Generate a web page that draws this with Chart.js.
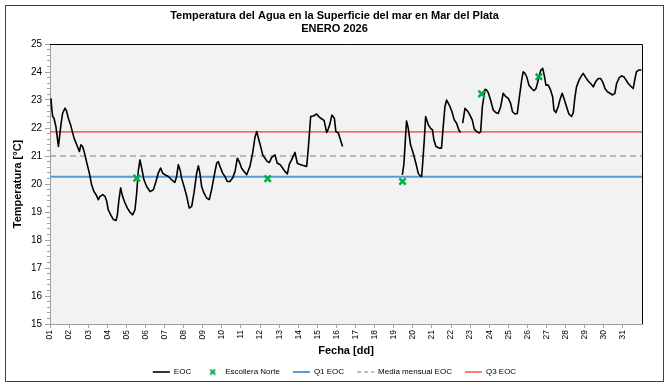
<!DOCTYPE html>
<html>
<head>
<meta charset="utf-8">
<script src="https://cdn.jsdelivr.net/npm/chart.js@4/dist/chart.umd.min.js"></script>
<style>
html,body{margin:0;padding:0;background:#fff;}
#wrap{position:relative;width:669px;height:386px;}
</style>
</head>
<body>
<div id="wrap"><canvas id="c" width="669" height="386"></canvas></div>
<script>
// ---- Data ----
// EOC hourly-ish water temperature: day of month (fractional) and temperature in °C. null = gap
const eocDays = [
  1.05,1.09,1.14,1.21,1.31,1.44,1.56,1.66,1.79,1.87,1.96,2.08,2.17,2.26,2.40,2.54,2.62,2.71,2.83,2.95,
  3.06,3.18,3.30,3.41,3.53,3.62,3.76,3.88,3.97,4.05,4.18,4.32,4.46,4.53,4.60,4.70,4.80,4.93,5.05,5.19,
  5.33,5.45,5.54,5.62,5.71,5.80,5.92,6.06,6.24,6.41,6.55,6.67,6.79,6.90,7.02,7.20,7.37,7.54,7.63,7.72,
  7.81,7.89,8.02,8.16,8.29,8.42,8.54,8.68,8.77,8.85,8.94,9.06,9.20,9.34,9.46,9.59,9.73,9.81,9.90,10.04,
  10.16,10.28,10.42,10.56,10.69,10.81,10.91,11.03,11.16,11.30,11.47,11.61,11.74,11.83,11.91,12.03,12.14,12.26,12.38,12.49,
  12.61,12.78,12.90,13.04,13.18,13.30,13.43,13.53,13.65,13.83,13.95,14.09,14.26,14.44,14.52,14.65,14.79,14.96,15.10,15.22,
  15.35,15.49,15.57,15.66,15.76,15.89,15.97,16.10,16.18,16.32,
  17.00,
  19.45,19.53,19.62,19.67,19.76,19.88,20.02,20.16,20.28,20.37,20.46,20.51,20.60,20.67,20.81,20.93,21.03,21.10,21.21,21.38,
  21.50,21.59,21.68,21.77,21.91,22.05,22.17,22.29,22.41,22.50,
  22.55,
  22.61,22.73,22.87,22.99,23.11,23.22,23.34,23.48,23.55,23.64,23.78,23.86,23.95,24.07,24.21,24.35,24.47,24.60,24.73,24.87,
  25.00,25.12,25.22,25.35,25.47,25.57,25.70,25.78,25.87,25.96,26.08,26.22,26.34,26.45,26.57,26.69,26.80,26.88,26.97,27.09,
  27.21,27.32,27.39,27.49,27.61,27.70,27.82,27.91,28.05,28.17,28.31,28.40,28.48,28.57,28.71,28.83,28.92,29.06,29.18,29.31,
  29.45,29.57,29.71,29.83,29.94,30.06,30.18,30.32,30.46,30.58,30.67,30.81,30.93,31.05,31.16,31.28,31.40,31.54,31.62,31.71,
  31.83,31.97
];
const eocTemps = [
  23.06,22.71,22.41,22.35,22.05,21.34,22.05,22.53,22.71,22.60,22.35,22.11,21.87,21.64,21.40,21.16,21.40,21.34,21.04,20.69,
  20.39,19.97,19.73,19.62,19.44,19.56,19.62,19.56,19.38,19.08,18.90,18.73,18.70,18.90,19.38,19.86,19.56,19.32,19.14,18.99,
  18.90,19.08,19.68,20.45,20.86,20.57,20.15,19.91,19.73,19.79,20.09,20.39,20.57,20.39,20.33,20.27,20.15,20.06,20.27,20.69,
  20.51,20.21,19.91,19.56,19.14,19.20,19.68,20.39,20.65,20.39,19.91,19.68,19.50,19.44,19.79,20.27,20.75,20.80,20.63,20.39,
  20.27,20.09,20.09,20.21,20.45,20.92,20.80,20.57,20.45,20.33,20.63,21.10,21.70,21.87,21.64,21.34,21.04,20.92,20.80,20.77,
  20.95,21.04,20.74,20.70,20.57,20.45,20.36,20.70,20.86,21.13,20.74,20.70,20.66,20.63,21.22,22.41,22.43,22.50,22.39,22.33,
  22.27,21.84,21.96,22.15,22.46,22.35,21.87,21.82,21.64,21.34,
  null,
  20.33,20.70,21.70,22.25,21.99,21.40,21.10,20.74,20.39,20.30,20.27,20.69,21.58,22.41,22.11,21.99,21.93,21.58,21.34,21.28,
  21.28,22.05,22.76,23.00,22.82,22.58,22.29,22.17,21.93,21.84,
  null,
  22.17,22.70,22.60,22.46,22.29,21.96,21.87,21.82,21.87,22.76,23.38,23.36,23.26,23.00,22.64,22.55,22.52,22.76,23.24,23.12,
  23.06,22.88,22.58,22.50,22.52,23.06,23.72,24.01,23.95,23.83,23.53,23.41,23.33,23.41,23.72,24.05,24.13,23.89,23.53,23.53,
  23.36,23.12,22.64,22.55,22.76,23.00,23.24,23.06,22.76,22.50,22.41,22.55,23.06,23.47,23.72,23.86,23.95,23.80,23.68,23.59,
  23.47,23.65,23.77,23.77,23.65,23.41,23.30,23.24,23.18,23.24,23.59,23.80,23.86,23.83,23.72,23.59,23.50,23.41,23.72,24.01,
  24.07,24.07
];
// Escollera Norte samples
const escDays  = [5.54, 12.40, 19.46, 23.60, 26.60];
const escTemps = [20.21, 20.19, 20.09, 23.22, 23.83];
// Monthly statistics for EOC
const q1Eoc = 20.26;
const mediaEoc = 21.00;
const q3Eoc = 21.86;
// Axis
const xStart = 1, xEnd = 32;
const dayLabels = ['01','02','03','04','05','06','07','08','09','10','11','12','13','14','15','16',
                   '17','18','19','20','21','22','23','24','25','26','27','28','29','30','31'];
const yMin = 15, yMax = 25;

// ---- Chart ----
const FAM = "'Liberation Sans', Arial, sans-serif";
const GREEN = '#00b050';

const xImg = document.createElement('canvas');
xImg.width = 7; xImg.height = 7;
(function(){
  const g = xImg.getContext('2d');
  g.strokeStyle = GREEN; g.lineWidth = 2;
  g.beginPath(); g.moveTo(1,1); g.lineTo(6,6); g.moveTo(6,1); g.lineTo(1,6); g.stroke();
})();

const hLine = v => [{x: xStart, y: v}, {x: xEnd, y: v}];

const framePlugin = {
  id: 'framePlugin',
  beforeDraw(chart) {
    const {ctx, chartArea: a} = chart;
    ctx.save();
    ctx.fillStyle = '#fff';
    ctx.fillRect(0, 0, chart.width, chart.height);
    ctx.fillStyle = '#f2f2f2';
    ctx.fillRect(a.left, a.top, a.right - a.left, a.bottom - a.top);
    ctx.strokeStyle = '#404040';
    ctx.lineWidth = 1;
    ctx.strokeRect(5.5, 5.5, 658, 376);
    ctx.restore();
  },
  afterDatasetsDraw(chart) {
    const {ctx, chartArea: a} = chart;
    ctx.save();
    ctx.strokeStyle = '#000';
    ctx.lineWidth = 1;
    ctx.beginPath();
    ctx.moveTo(a.left, Math.round(a.top) + 0.5);
    ctx.lineTo(Math.round(a.right) + 0.5, Math.round(a.top) + 0.5);
    ctx.lineTo(Math.round(a.right) + 0.5, a.bottom);
    ctx.stroke();
    ctx.restore();
  }
};

new Chart(document.getElementById('c'), {
  type: 'line',
  data: {
    datasets: [
      {
        label: 'EOC',
        data: eocDays.map((d, i) => ({x: d, y: eocTemps[i]})),
        borderColor: '#000', borderWidth: 1.6, pointRadius: 0, tension: 0,
        borderJoinStyle: 'round', spanGaps: false, yAxisID: 'y'
      },
      {
        label: 'Escollera Norte',
        data: escDays.map((d, i) => ({x: d, y: escTemps[i]})),
        showLine: false, pointStyle: 'crossRot', pointRadius: 4.5,
        pointBorderWidth: 2.5, pointBorderColor: GREEN, pointBackgroundColor: GREEN,
        borderColor: GREEN, backgroundColor: GREEN, order: -1, yAxisID: 'y'
      },
      {
        label: 'Q1 EOC', data: hLine(q1Eoc),
        borderColor: '#5b9bd5', borderWidth: 2, pointRadius: 0, order: 1, yAxisID: 'y'
      },
      {
        label: 'Media mensual EOC', data: hLine(mediaEoc),
        borderColor: '#a6a6a6', borderWidth: 1.5, borderDash: [6, 4], pointRadius: 0, order: 1, yAxisID: 'y'
      },
      {
        label: 'Q3 EOC', data: hLine(q3Eoc),
        borderColor: '#ff3333', borderWidth: 1.3, pointRadius: 0, order: 1, yAxisID: 'y'
      }
    ]
  },
  options: {
    responsive: false, animation: false, devicePixelRatio: 1,
    layout: { padding: 0 },
    plugins: {
      tooltip: { enabled: false },
      title: {
        display: true,
        text: ['Temperatura del Agua en la Superficie del mar en Mar del Plata', 'ENERO 2026'],
        color: '#000',
        font: { family: FAM, size: 11, weight: 'bold', lineHeight: 1.2 },
        padding: { top: 9.5, bottom: 8.1 }
      },
      legend: {
        position: 'bottom',
        labels: {
          usePointStyle: true, pointStyleWidth: 17, boxHeight: 8, padding: 13,
          color: '#000', font: { family: FAM, size: 8 },
          sort: (a, b) => a.datasetIndex - b.datasetIndex,
          generateLabels(chart) {
            const items = Chart.defaults.plugins.legend.labels.generateLabels(chart);
            items.forEach(it => {
              const ds = chart.data.datasets[it.datasetIndex];
              if (it.datasetIndex === 1) {
                it.pointStyle = xImg;
              } else {
                it.pointStyle = 'line';
                it.strokeStyle = ds.borderColor;
                it.lineWidth = ds.borderWidth;
                it.lineDash = ds.borderDash ? [4, 3] : [];
              }
            });
            return items;
          }
        }
      }
    },
    scales: {
      x: {
        type: 'linear', min: xStart, max: xEnd,
        afterBuildTicks: s => { s.ticks = dayLabels.map((_, i) => ({ value: i + 1 })); },
        ticks: {
          autoSkip: false, minRotation: 90, maxRotation: 90, padding: 2,
          color: '#000', font: { family: FAM, size: 8.5 },
          callback: v => dayLabels[v - 1] ?? ''
        },
        grid: { drawOnChartArea: false, tickLength: 4, color: '#a0a0a0' },
        border: { color: '#a0a0a0' },
        title: {
          display: true, text: 'Fecha [dd]', color: '#000',
          font: { family: FAM, size: 11, weight: 'bold' },
          padding: { top: 0, bottom: -2.6 }
        },
        afterFit: s => { s.height = 31; }
      },
      y: {
        type: 'linear', position: 'left', min: yMin, max: yMax, weight: 1,
        ticks: { stepSize: 1, padding: 3, color: '#000', font: { family: FAM, size: 10 } },
        grid: { drawOnChartArea: false, tickLength: 5, color: '#a0a0a0' },
        border: { color: '#a0a0a0' },
        title: {
          display: true, text: 'Temperatura [°C]', color: '#000',
          font: { family: FAM, size: 11, weight: 'bold' },
          padding: { top: 11, bottom: 0 }
        },
        afterFit: s => { s.width = 50; }
      },
      yMinor: {
        type: 'linear', position: 'left', min: yMin, max: yMax, weight: 0,
        ticks: { stepSize: 0.2, display: false },
        grid: { drawOnChartArea: false, tickLength: 3, color: '#a0a0a0' },
        border: { display: false },
        afterFit: s => { s.width = 0; }
      },
      yR: {
        type: 'linear', position: 'right', display: true,
        ticks: { display: false },
        grid: { display: false },
        border: { display: false },
        afterFit: s => { s.width = 27; }
      }
    }
  },
  plugins: [framePlugin]
});
</script>
</body>
</html>
